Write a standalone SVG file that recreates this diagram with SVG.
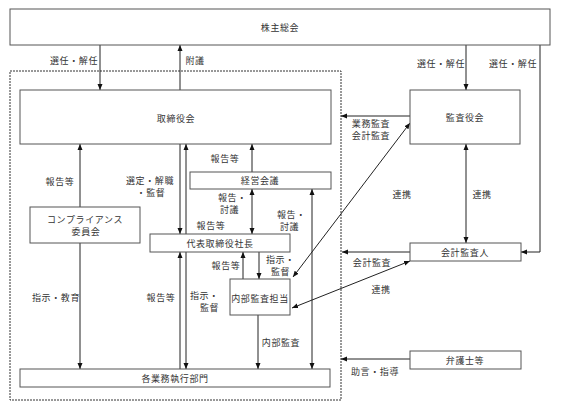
<svg xmlns="http://www.w3.org/2000/svg" width="581" height="406" viewBox="0 0 581 406">
<style>
.box{fill:#fff;stroke:#555;stroke-width:1}
.t{font-family:"Noto Sans CJK JP","Noto Sans CJK SC",sans-serif;font-size:9px;letter-spacing:0.6px;fill:#333;text-anchor:middle}
.s{text-anchor:start}
.c{fill:none;stroke:#222;stroke-width:1}
.cb{fill:none;stroke:#222;stroke-width:1;marker-end:url(#ah)}
.cd{fill:none;stroke:#222;stroke-width:1;marker-end:url(#ah);marker-start:url(#ah)}
</style>
<defs>
<marker id="ah" viewBox="0 0 6 6" refX="6" refY="3" markerWidth="6" markerHeight="6" markerUnits="userSpaceOnUse" orient="auto-start-reverse">
<path d="M0,0.5 L6,3 L0,5.5 z" fill="#111"/>
</marker>
</defs>
<rect width="581" height="406" fill="#fff"/>
<g id="boundary"><rect x="10" y="71" width="331" height="329" fill="none" stroke="#333" stroke-width="1" stroke-dasharray="2,1"/></g>
<g id="connectors">
<line class="cb" x1="100" y1="45" x2="100" y2="90"/>
<line class="cb" x1="180" y1="90" x2="180" y2="45"/>
<line class="cb" x1="466" y1="45" x2="466" y2="90"/>
<polyline class="cb" points="540,45 540,252 521,252"/>
<line class="cb" x1="410" y1="116" x2="341" y2="116"/>
<line class="cd" x1="293" y1="277" x2="410" y2="123"/>
<line class="cd" x1="466" y1="144" x2="466" y2="243"/>
<line class="cb" x1="410" y1="252" x2="342" y2="252"/>
<line class="cd" x1="292" y1="308" x2="410" y2="261"/>
<line class="cb" x1="410" y1="359" x2="341" y2="359"/>
<line class="cb" x1="80" y1="207" x2="80" y2="144"/>
<line class="cb" x1="80" y1="243" x2="80" y2="369"/>
<line class="cb" x1="180" y1="144" x2="180" y2="234"/>
<line class="cb" x1="186" y1="234" x2="186" y2="144"/>
<line class="cb" x1="180" y1="369" x2="180" y2="252"/>
<line class="cb" x1="186" y1="252" x2="186" y2="369"/>
<line class="cb" x1="252" y1="172" x2="252" y2="144"/>
<line class="cd" x1="252" y1="189" x2="252" y2="234"/>
<line class="cd" x1="312" y1="189" x2="312" y2="369"/>
<line class="cb" x1="243" y1="279" x2="243" y2="252"/>
<line class="cb" x1="259" y1="252" x2="259" y2="279"/>
<line class="cb" x1="258" y1="315" x2="258" y2="369"/>
</g>
<g id="n-shareholders"><rect class="box" x="10" y="9" width="540" height="36"/><text class="t" x="280" y="30.5">株主総会</text></g>
<g id="n-board"><rect class="box" x="20" y="90" width="311" height="54"/><text class="t" x="176" y="121.5">取締役会</text></g>
<g id="n-auditors"><rect class="box" x="410" y="90" width="110" height="54"/><text class="t" x="465" y="120.5">監査役会</text></g>
<g id="n-mgmt"><rect class="box" x="190" y="172" width="141" height="17"/><text class="t" x="260" y="183.5">経営会議</text></g>
<g id="n-compliance"><rect class="box" x="30" y="207" width="110" height="36"/><text class="t" x="85" y="223">コンプライアンス</text><text class="t" x="86" y="235">委員会</text></g>
<g id="n-president"><rect class="box" x="150" y="234" width="140" height="18"/><text class="t" x="220" y="246.5">代表取締役社長</text></g>
<g id="n-internal"><rect class="box" x="230" y="279" width="60" height="36"/><text class="t" x="260" y="301.5">内部監査担当</text></g>
<g id="n-depts"><rect class="box" x="20" y="369" width="310" height="18"/><text class="t" x="175" y="381.5">各業務執行部門</text></g>
<g id="n-accountant"><rect class="box" x="410" y="243" width="111" height="18"/><text class="t" x="465" y="255.5">会計監査人</text></g>
<g id="n-lawyer"><rect class="box" x="410" y="351" width="111" height="18"/><text class="t" x="465" y="363.5">弁護士等</text></g>
<g id="labels">
<text class="t" x="74" y="63.5">選任・解任</text>
<text class="t" x="195" y="63.5">附議</text>
<text class="t" x="441" y="66.5">選任・解任</text>
<text class="t" x="513" y="66.5">選任・解任</text>
<text class="t" x="371" y="127">業務監査</text>
<text class="t" x="371" y="139">会計監査</text>
<text class="t" x="60" y="184.5">報告等</text>
<text class="t" x="150" y="184">選定・解職</text>
<text class="t" x="151" y="196">・監督</text>
<text class="t" x="225" y="161.5">報告等</text>
<text class="t s" x="218" y="201">報告・</text>
<text class="t s" x="220" y="213">討議</text>
<text class="t s" x="277" y="218">報告・</text>
<text class="t s" x="280" y="230">討議</text>
<text class="t" x="211" y="228.5">報告等</text>
<text class="t" x="226" y="268.5">報告等</text>
<text class="t s" x="266" y="263">指示・</text>
<text class="t s" x="271" y="275">監督</text>
<text class="t" x="56" y="300.5">指示・教育</text>
<text class="t" x="161" y="300.5">報告等</text>
<text class="t s" x="190" y="299">指示・</text>
<text class="t s" x="200" y="311">監督</text>
<text class="t" x="281" y="345.5">内部監査</text>
<text class="t" x="402" y="197.5">連携</text>
<text class="t" x="482" y="197.5">連携</text>
<text class="t" x="372" y="265.5">会計監査</text>
<text class="t" x="381" y="292.5">連携</text>
<text class="t" x="375" y="374.5">助言・指導</text>
</g>
</svg>
